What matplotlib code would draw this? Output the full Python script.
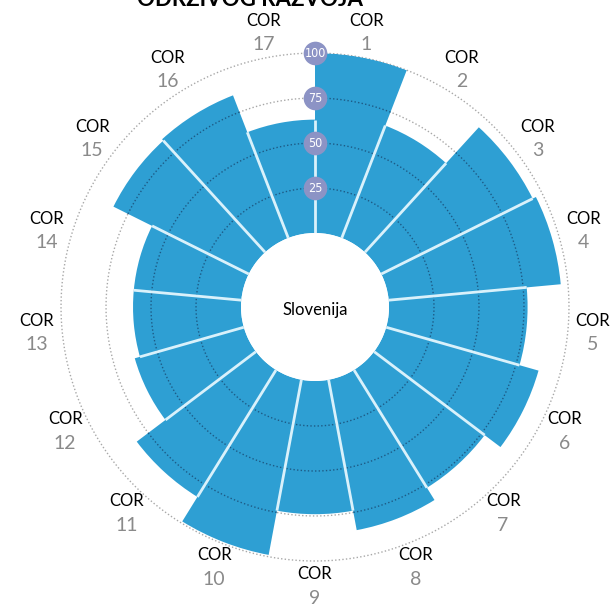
import numpy as np
import matplotlib
matplotlib.use("Agg")
import matplotlib.pyplot as plt

plt.rcParams['font.family'] = ['Lato', 'DejaVu Sans']

# ---------------- data ----------------
goals = [str(i) for i in range(1, 18)]
values = [100, 67, 94, 96, 77, 88, 77, 85, 74, 99, 83, 63, 60, 60, 84, 85, 63]
ring_levels = [25, 50, 75, 100]
ring_labels = ['25', '50', '75', '100']
country = 'Slovenija'
title = 'ODRŽIVOG RAZVOJA'

BAR = '#2e9fd3'
EDGE = '#d9f1fb'
DARK_DOT = '#1d5a85'
GREY_DOT = '#a8a8a8'
BADGE = '#8c93c5'

fig = plt.figure(figsize=(6.15, 6.04), dpi=100)
ax = fig.add_axes([0.0992, 0.0712, 0.826, 0.841], projection='polar')
ax.set_theta_zero_location('N')
ax.set_theta_direction(-1)
ax.set_ylim(0, 100)
ax.set_rorigin(-41.1)
ax.set_axis_off()

n = len(values)
width = 2 * np.pi / n
starts = np.arange(n) * width

# grey dotted rings behind the bars
full = np.linspace(0, 2 * np.pi, 500)
for lev in ring_levels:
    ax.plot(full, np.full_like(full, lev), color=GREY_DOT, lw=1.0,
            ls=(0, (1, 1.6)), zorder=1, clip_on=False)

ax.bar(starts, values, width=width, bottom=0, align='edge', color=BAR,
       edgecolor='none', linewidth=0, zorder=2)

# dark dotted rings on top of the bars
for lev in ring_levels[:-1]:
    for s, v in zip(starts, values):
        if v > lev + 1:
            th = np.linspace(s, s + width, 40)
            ax.plot(th, np.full_like(th, lev), color=DARK_DOT, lw=1.0,
                    ls=(0, (1, 1.6)), zorder=3)

# light separators between neighbouring bars
for i, s in enumerate(starts):
    top = min(values[i], values[i - 1])
    ax.plot([s, s], [0, top], color=EDGE, lw=2.0, zorder=4,
            solid_capstyle='butt')

# ring value badges on the zero direction
ax.scatter(np.zeros(len(ring_levels)), ring_levels, s=290, color=BADGE,
           zorder=5, clip_on=False, linewidths=0)
for lev, lab in zip(ring_levels, ring_labels):
    ax.text(0, lev, lab, color='white', fontsize=9, ha='center',
            va='center', zorder=6, family=['DejaVu Sans'],
            fontstretch='condensed')

# goal labels
for s, g in zip(starts, goals):
    th = s + width / 2
    ax.annotate('COR', xy=(th, 114), xytext=(0, 12), textcoords='offset pixels',
                ha='center', va='center', fontsize=12, color='black',
                annotation_clip=False)
    ax.annotate(g, xy=(th, 114), xytext=(0, -12), textcoords='offset pixels',
                ha='center', va='center', fontsize=14, color='#8a8a8a',
                annotation_clip=False)

fig.text(315 / 615, 1 - 310 / 604, country, ha='center', va='center',
         fontsize=12, color='black')
fig.text(250 / 615, 1 - 6 / 604, title, ha='center', va='baseline',
         fontsize=16, fontweight='bold', color='black')

fig.savefig('out.png', dpi=100, facecolor='white')
